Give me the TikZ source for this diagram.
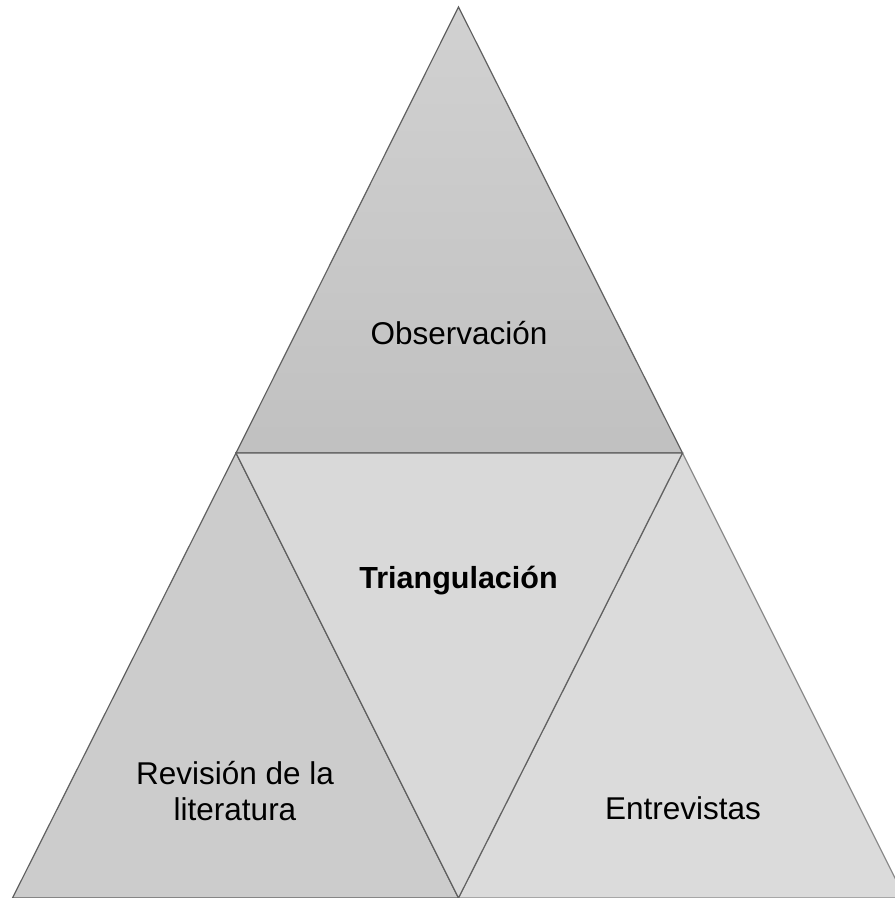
\documentclass[tikz,border=0pt]{standalone}
\usepackage{fontspec}
\setmainfont{Liberation Sans}
\begin{document}
\begin{tikzpicture}[x=1pt,y=-1pt,
  tri/.style={draw=black!62,line width=1.2pt,line join=miter},
  lbl/.style={font=\fontsize{31.5}{36}\selectfont,align=center,inner sep=0pt,text=black}]
\useasboundingbox (0,0) rectangle (895,898);
\clip (0,0) rectangle (895,898);
\coordinate (apex) at (458.5,7);
\coordinate (tl) at (236,453);
\coordinate (tr) at (682.5,453);
\coordinate (bm) at (458.5,898);
\coordinate (bl) at (12.5,898);
\coordinate (br) at (905,898);
% top triangle
\path[tri,top color=black!18,bottom color=black!24.5] (apex) -- (tr) -- (tl) -- cycle;
% left bottom triangle
\path[tri,fill=black!20] (tl) -- (bm) -- (bl) -- cycle;
% right bottom triangle
\path[tri,draw=black!45,fill=black!14] (tr) -- (br) -- (bm) -- cycle;
% middle inverted triangle
\path[tri,fill=black!15] (tl) -- (tr) -- (bm) -- cycle;
\node[lbl] (obs) at (459,333) {Observación};
\node[lbl,font=\fontsize{30.5}{36}\selectfont\bfseries] (tri) at (458.5,581) {Triangulación};
\node[lbl] (rev) at (235,791) {Revisión de la\\literatura};
\node[lbl] (ent) at (683,808) {Entrevistas};
\end{tikzpicture}
\end{document}
